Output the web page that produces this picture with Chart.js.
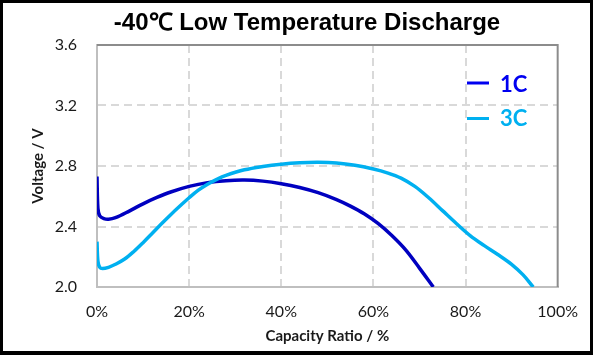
<!DOCTYPE html>
<html>
<head>
<meta charset="utf-8">
<script src="https://cdn.jsdelivr.net/npm/chart.js@4.4.1/dist/chart.umd.min.js"></script>
<style>
  html, body { margin: 0; padding: 0; background: #fff; }
  #wrap { position: relative; width: 593px; height: 357px; }
  canvas { display: block; }
</style>
</head>
<body>
<div id="wrap"><canvas id="c" width="593" height="357"></canvas></div>
<script>
// ---- Data ----
const chartTitle = '-40\u2103 Low Temperature Discharge';
const seriesNames = ['1C', '3C'];

const capacity1C = [0, 0.2, 0.6, 1.5, 2.5, 4, 7, 10, 13, 16, 20, 24, 28, 32, 36, 40, 44, 48, 52, 55, 58, 61, 64, 67, 70, 73];
const voltage1C  = [2.73, 2.52, 2.47, 2.452, 2.448, 2.458, 2.502, 2.55, 2.592, 2.628, 2.665, 2.69, 2.703, 2.707, 2.70, 2.683, 2.658, 2.624, 2.578, 2.535, 2.484, 2.42, 2.34, 2.245, 2.125, 2.0];

const capacity3C = [0, 0.2, 0.6, 1.2, 2.5, 4, 6, 8, 10, 12, 14, 16, 18, 20, 22, 24, 26, 28, 32, 36, 40, 44, 48, 52, 56, 60, 63, 66, 69, 72, 75, 78, 81, 84, 87, 90, 92.5, 94.7];
const voltage3C  = [2.30, 2.17, 2.13, 2.122, 2.13, 2.15, 2.185, 2.235, 2.293, 2.355, 2.418, 2.478, 2.535, 2.59, 2.64, 2.68, 2.712, 2.738, 2.775, 2.797, 2.812, 2.821, 2.824, 2.82, 2.805, 2.78, 2.755, 2.72, 2.665, 2.59, 2.505, 2.42, 2.34, 2.275, 2.215, 2.15, 2.08, 2.0];

const xTickLabels = ['0%', '20%', '40%', '60%', '80%', '100%'];
const yTickLabels = ['2.0', '2.4', '2.8', '3.2', '3.6'];
const xAxisTitle = 'Capacity Ratio / %';
const yAxisTitle = 'Voltage / V';

const color1C = '#0000C0';
const color1CLegend = '#0000F0';
const color3C = '#00B0F0';

const toPoints = (xs, ys) => xs.map((x, i) => ({ x: x, y: ys[i] }));

const frame = {
  id: 'frame',
  beforeDraw(chart) {
    const ctx = chart.ctx;
    ctx.save();
    ctx.fillStyle = '#fff';
    ctx.fillRect(0, 0, chart.width, chart.height);
    ctx.restore();
  },
  beforeDatasetsDraw(chart) {
    const ctx = chart.ctx, a = chart.chartArea;
    ctx.save();
    ctx.strokeStyle = '#8c8c8c';
    ctx.lineWidth = 2;
    ctx.beginPath();
    ctx.moveTo(a.left, a.top);
    ctx.lineTo(a.right, a.top);
    ctx.lineTo(a.right, a.bottom);
    ctx.stroke();
    ctx.restore();
  },
  afterDraw(chart) {
    const ctx = chart.ctx;
    ctx.save();
    // title
    ctx.fillStyle = '#000';
    ctx.font = 'bold 24px "Liberation Sans", Arial, sans-serif';
    ctx.textAlign = 'center';
    ctx.textBaseline = 'alphabetic';
    ctx.fillText(chartTitle, 307, 30);
    // legend
    const legend = [
      { name: seriesNames[0], color: color1CLegend, yPix: 83, base: 92 },
      { name: seriesNames[1], color: color3C, yPix: 118.5, base: 126 }
    ];
    legend.forEach(l => {
      ctx.strokeStyle = l.color;
      ctx.lineWidth = 3;
      ctx.beginPath();
      ctx.moveTo(467, l.yPix);
      ctx.lineTo(489, l.yPix);
      ctx.stroke();
      ctx.fillStyle = l.color;
      ctx.font = 'bold 22px Lato, "Open Sans", sans-serif';
      ctx.textAlign = 'left';
      ctx.fillText(l.name, 500, l.base);
    });
    // outer black frame
    ctx.fillStyle = '#000';
    ctx.fillRect(0, 0, 593, 3);
    ctx.fillRect(0, 0, 3, 355);
    ctx.fillRect(590, 0, 3, 355);
    ctx.fillRect(0, 351, 593, 4);
    ctx.restore();
  }
};

new Chart(document.getElementById('c'), {
  type: 'line',
  data: {
    datasets: [
      {
        label: seriesNames[0],
        data: toPoints(capacity1C, voltage1C),
        borderColor: color1C,
        borderWidth: 3.5,
        pointRadius: 0,
        tension: 0.35,
        fill: false,
        order: 1
      },
      {
        label: seriesNames[1],
        data: toPoints(capacity3C, voltage3C),
        borderColor: color3C,
        borderWidth: 3.5,
        pointRadius: 0,
        tension: 0.35,
        fill: false,
        order: 0
      }
    ]
  },
  options: {
    responsive: false,
    animation: false,
    devicePixelRatio: 1,
    layout: { padding: { left: 0, top: 45, right: 26, bottom: 0 } },
    plugins: {
      legend: { display: false },
      title: { display: false },
      tooltip: { enabled: false }
    },
    scales: {
      x: {
        type: 'linear',
        min: 0,
        max: 100,
        afterFit: (s) => { s.height = 70; },
        ticks: {
          stepSize: 20,
          padding: 15,
          color: '#1a1a1a',
          font: { family: 'Lato, "Open Sans", sans-serif', size: 16 },
          callback: (v, i) => xTickLabels[i]
        },
        grid: {
          drawTicks: false,
          color: (c) => (c.tick && (c.tick.value === 0 || c.tick.value === 100)) ? 'rgba(0,0,0,0)' : '#d9d9d9',
          lineWidth: 2
        },
        border: { display: true, color: '#bfbfbf', width: 2, dash: [8, 5] },
        title: {
          display: true,
          text: xAxisTitle,
          color: '#1a1a1a',
          font: { family: 'Lato, "Open Sans", sans-serif', size: 15, weight: 'bold' },
          padding: { top: 0, bottom: 12 }
        }
      },
      y: {
        type: 'linear',
        min: 2.0,
        max: 3.6,
        afterFit: (s) => { s.width = 97; },
        ticks: {
          stepSize: 0.4,
          padding: 20,
          color: '#1a1a1a',
          font: { family: 'Lato, "Open Sans", sans-serif', size: 16 },
          callback: (v, i) => yTickLabels[i]
        },
        grid: {
          drawTicks: false,
          color: (c) => (c.index === 0 || c.index === 4) ? 'rgba(0,0,0,0)' : '#d9d9d9',
          lineWidth: 2
        },
        border: { display: true, color: '#bfbfbf', width: 2, dash: [8, 5] },
        title: {
          display: true,
          text: yAxisTitle,
          color: '#1a1a1a',
          font: { family: 'Lato, "Open Sans", sans-serif', size: 15, weight: 'bold' },
          padding: { top: 29, bottom: 0 }
        }
      }
    }
  },
  plugins: [frame]
});
</script>
</body>
</html>
